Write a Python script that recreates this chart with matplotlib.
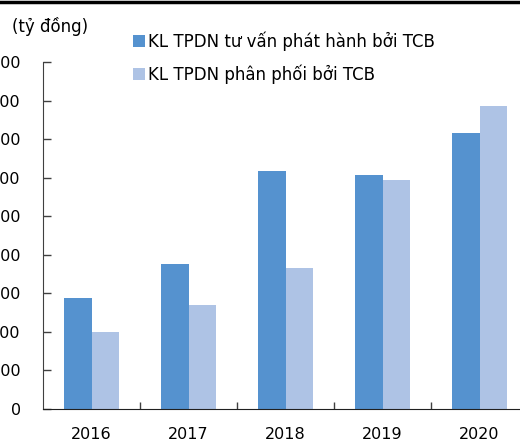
import matplotlib.pyplot as plt
from matplotlib.lines import Line2D

# du lieu (ty dong)
years = ["2016", "2017", "2018", "2019", "2020"]
tu_van = [2870, 3750, 6180, 6060, 7150]
phan_phoi = [1990, 2690, 3670, 5950, 7870]
yticks = [0, 1000, 2000, 3000, 4000, 5000, 6000, 7000, 8000, 9000]

mau1 = "#5592cf"
mau2 = "#aec3e5"

fig = plt.figure(figsize=(5.2, 4.43), dpi=100)
ax = fig.add_axes([43/520, 34/443, 485/520, 347/443])

w = 0.284
x = list(range(len(years)))
ax.bar([i - w/2 for i in x], tu_van, width=w, color=mau1,
       label="KL TPDN tư vấn phát hành bởi TCB")
ax.bar([i + w/2 for i in x], phan_phoi, width=w, color=mau2,
       label="KL TPDN phân phối bởi TCB")

ax.set_xlim(-0.5, 4.5)
ax.set_ylim(0, 9000)
ax.set_yticks(yticks)
ax.set_yticklabels([str(v) for v in yticks])
ax.set_xticks(x)
ax.set_xticklabels(years)
ax.set_xticks([i + 0.5 for i in x[:-1]], minor=True)

ax.tick_params(axis="x", which="major", length=0, pad=13, labelsize=11.5)
ax.tick_params(axis="x", which="minor", direction="in", length=5, width=1, color="#404040")
ax.tick_params(axis="y", direction="in", length=6, width=1, color="#404040", pad=16, labelsize=11.5)

for s in ["top", "right"]:
    ax.spines[s].set_visible(False)
ax.spines["left"].set_color("#404040")
ax.spines["bottom"].set_color("#202020")

ax.legend(loc="upper left", bbox_to_anchor=(0.171, 1.107), frameon=False,
          fontsize=12, handlelength=0.72, handleheight=0.72,
          handletextpad=0.18, labelspacing=0.8, borderaxespad=0)

fig.text(12/520, 1 - 27/443, "(tỷ đồng)", fontsize=12, va="center", ha="left")

# duong ke tren cung
fig.add_artist(Line2D([0, 1], [1 - 1.5/443, 1 - 1.5/443], color="black", lw=2.5,
                      transform=fig.transFigure))

fig.savefig("out.png", dpi=100)
